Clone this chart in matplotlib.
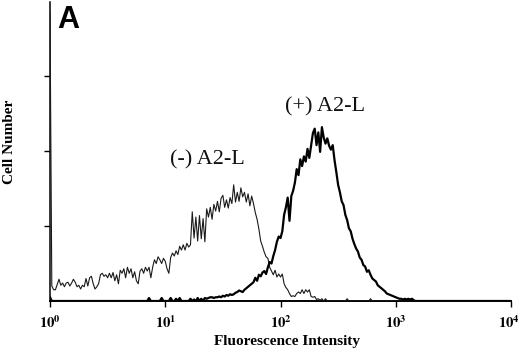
import numpy as np
import matplotlib
matplotlib.use("Agg")
import matplotlib.pyplot as plt
from matplotlib.transforms import ScaledTranslation

plt.rcParams['mathtext.fontset'] = 'stix'

# Histogram: 256 log channels over 4 decades (64 per decade)
channels_per_decade = 64

neg_counts = [
    3.85, 0.20, 0.15, 0.15, 0.22, 0.29, 0.21, 0.24, 0.19, 0.24,
    0.25, 0.20, 0.24, 0.29, 0.25, 0.19, 0.21, 0.16, 0.21, 0.19,
    0.30, 0.20, 0.31, 0.33, 0.23, 0.16, 0.19, 0.23, 0.35, 0.37,
    0.33, 0.35, 0.31, 0.37, 0.31, 0.38, 0.27, 0.35, 0.23, 0.41,
    0.37, 0.43, 0.31, 0.45, 0.37, 0.43, 0.31, 0.39, 0.27, 0.23,
    0.40, 0.43, 0.37, 0.45, 0.40, 0.45, 0.31, 0.45, 0.55, 0.50,
    0.59, 0.55, 0.50, 0.57, 0.53, 0.43, 0.37, 0.58, 0.64, 0.60,
    0.67, 0.62, 0.73, 0.68, 0.75, 0.68, 0.77, 0.72, 0.75, 1.19,
    0.84, 1.12, 0.80, 1.14, 0.83, 1.10, 0.79, 1.23, 1.12, 1.25,
    1.09, 1.29, 1.20, 1.33, 1.19, 1.37, 1.41, 1.25, 1.35, 1.24,
    1.38, 1.30, 1.55, 1.32, 1.45, 1.33, 1.51, 1.39, 1.45, 1.32,
    1.43, 1.27, 1.40, 1.30, 1.18, 1.09, 0.96, 0.80, 0.73, 0.65,
    0.59, 0.57, 0.45, 0.40, 0.35, 0.41, 0.32, 0.36, 0.32, 0.36,
    0.23, 0.18, 0.15, 0.10, 0.06, 0.07, 0.06, 0.10, 0.12, 0.10,
    0.15, 0.10, 0.15, 0.12, 0.15, 0.06, 0.05, 0.06, 0.02, 0.03,
    0.01, 0.03, 0.00, 0.03, 0.00, 0.00, 0.00, 0.00, 0.00, 0.00,
    0.00, 0.00, 0.00, 0.00, 0.00, 0.03, 0.00, 0.00, 0.00, 0.00,
    0.00, 0.00, 0.00, 0.00, 0.00, 0.00, 0.00, 0.00, 0.03, 0.00,
    0.00, 0.00, 0.00, 0.00, 0.00, 0.00, 0.00, 0.00, 0.00, 0.00,
    0.00, 0.00, 0.00, 0.00, 0.00, 0.00, 0.00, 0.00, 0.00, 0.00,
    0.00, 0.00, 0.00, 0.00, 0.00, 0.00, 0.00, 0.00, 0.00, 0.00,
    0.00, 0.00, 0.00, 0.00, 0.00, 0.00, 0.00, 0.00, 0.00, 0.00,
    0.00, 0.00, 0.00, 0.00, 0.00, 0.00, 0.00, 0.00, 0.00, 0.00,
    0.00, 0.00, 0.00, 0.00, 0.00, 0.00, 0.00, 0.00, 0.00, 0.00,
    0.00, 0.00, 0.00, 0.00, 0.00, 0.00, 0.00, 0.00, 0.00, 0.00,
    0.00, 0.00, 0.00, 0.00, 0.00, 0.00,
]

pos_counts = [
    0.05, 0.00, 0.00, 0.00, 0.00, 0.00, 0.00, 0.00, 0.00, 0.00,
    0.00, 0.00, 0.00, 0.00, 0.00, 0.00, 0.00, 0.00, 0.00, 0.00,
    0.00, 0.00, 0.00, 0.00, 0.00, 0.00, 0.00, 0.00, 0.00, 0.00,
    0.00, 0.00, 0.00, 0.00, 0.00, 0.00, 0.00, 0.00, 0.00, 0.00,
    0.00, 0.00, 0.00, 0.00, 0.00, 0.00, 0.00, 0.00, 0.00, 0.00,
    0.00, 0.00, 0.00, 0.00, 0.00, 0.04, 0.00, 0.00, 0.00, 0.00,
    0.00, 0.00, 0.04, 0.00, 0.00, 0.00, 0.00, 0.04, 0.00, 0.00,
    0.03, 0.00, 0.04, 0.00, 0.00, 0.00, 0.00, 0.00, 0.03, 0.00,
    0.02, 0.00, 0.04, 0.00, 0.03, 0.00, 0.04, 0.03, 0.04, 0.05,
    0.05, 0.04, 0.05, 0.05, 0.06, 0.05, 0.07, 0.06, 0.08, 0.07,
    0.09, 0.08, 0.09, 0.11, 0.12, 0.14, 0.13, 0.12, 0.15, 0.17,
    0.19, 0.21, 0.23, 0.25, 0.31, 0.27, 0.35, 0.33, 0.38, 0.40,
    0.36, 0.45, 0.52, 0.50, 0.60, 0.68, 0.79, 0.86, 0.84, 0.93,
    1.15, 1.25, 1.38, 1.07, 1.40, 1.47, 1.58, 1.76, 1.68, 1.89,
    1.80, 1.93, 1.86, 2.03, 1.91, 2.08, 2.24, 2.30, 2.08, 2.25,
    1.99, 2.32, 2.18, 2.10, 2.17, 2.07, 2.02, 2.08, 1.88, 1.72,
    1.55, 1.45, 1.33, 1.28, 1.15, 1.08, 0.97, 0.93, 0.83, 0.76,
    0.70, 0.66, 0.58, 0.55, 0.48, 0.46, 0.39, 0.41, 0.35, 0.30,
    0.28, 0.26, 0.21, 0.19, 0.17, 0.15, 0.13, 0.10, 0.09, 0.08,
    0.07, 0.06, 0.05, 0.04, 0.03, 0.03, 0.02, 0.03, 0.02, 0.03,
    0.02, 0.03, 0.01, 0.00, 0.00, 0.00, 0.00, 0.00, 0.00, 0.00,
    0.00, 0.00, 0.00, 0.00, 0.00, 0.00, 0.00, 0.00, 0.00, 0.00,
    0.00, 0.00, 0.00, 0.00, 0.00, 0.00, 0.00, 0.00, 0.00, 0.00,
    0.00, 0.00, 0.00, 0.00, 0.00, 0.00, 0.00, 0.00, 0.00, 0.00,
    0.00, 0.00, 0.00, 0.00, 0.00, 0.00, 0.00, 0.00, 0.00, 0.00,
    0.00, 0.00, 0.00, 0.00, 0.00, 0.00,
]

xtick_values = [1, 10, 100, 1000, 10000]
xtick_labels = [r'$\mathbf{10^{0}}$', r'$\mathbf{10^{1}}$', r'$\mathbf{10^{2}}$',
                r'$\mathbf{10^{3}}$', r'$\mathbf{10^{4}}$']
ytick_values = [1, 2, 3]

neg_x = 10 ** (np.arange(len(neg_counts)) / channels_per_decade)
pos_x = 10 ** (np.arange(len(pos_counts)) / channels_per_decade)

fig = plt.figure(figsize=(5.2, 3.51), dpi=100)
ax = fig.add_axes([50 / 520, 50 / 351, 461 / 520, 299 / 351])

ax.plot(neg_x, neg_counts, color='#1a1a1a', lw=0.8, zorder=3)
ax.plot(pos_x, pos_counts, color='black', lw=1.6, zorder=4)

ax.set_xscale('log')
ax.set_xlim(1, 10000)
ax.set_ylim(0, 3.99)

ax.spines['top'].set_visible(False)
ax.spines['right'].set_visible(False)
ax.spines['left'].set_linewidth(1.1)
ax.spines['bottom'].set_linewidth(1.4)

ax.set_xticks(xtick_values)
ax.set_xticklabels(xtick_labels)
ax.xaxis.set_minor_locator(matplotlib.ticker.NullLocator())
ax.tick_params(axis='x', direction='out', length=4, width=1, pad=6, labelsize=10.5)
ax.set_yticks(ytick_values)
ax.set_yticklabels([])
ax.tick_params(axis='y', direction='out', length=4, width=1)

last = ax.get_xticklabels()[-1]
last.set_transform(last.get_transform() + ScaledTranslation(-2.5 / 100, 0, fig.dpi_scale_trans))

fig.text(287 / 520, 1 - 342 / 351, 'Fluorescence Intensity', ha='center', va='center',
         family='Liberation Serif', fontweight='bold', fontsize=11)
fig.text(10 / 520, 1 - 142 / 351, 'Cell Number', ha='center', va='center', rotation=90,
         family='Liberation Serif', fontweight='bold', fontsize=11)

fig.text(170 / 520, 1 - 160 / 351, '(-) A2-L', ha='left', va='center',
         family='Liberation Serif', fontsize=16, color='#111111')
fig.text(285 / 520, 1 - 107 / 351, '(+) A2-L', ha='left', va='center',
         family='Liberation Serif', fontsize=16, color='#111111')

fig.text(57 / 520, 1 - 5 / 351, 'A', ha='left', va='top',
         family='Liberation Sans', fontweight='bold', fontsize=22)

fig.savefig('out.png', dpi=100)
